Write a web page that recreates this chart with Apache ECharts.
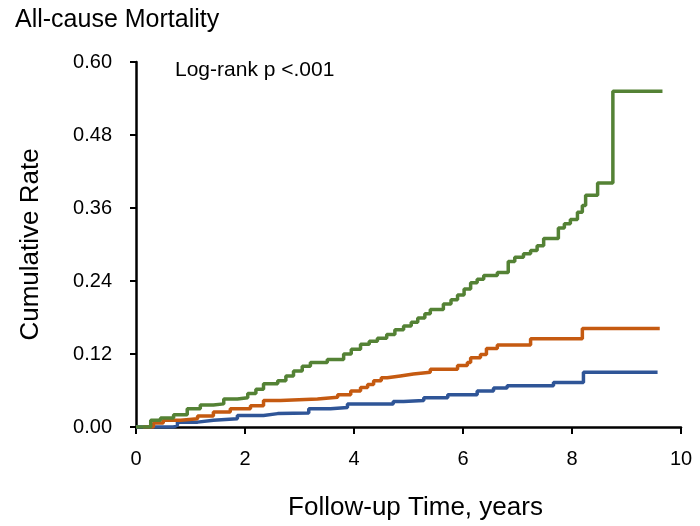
<!DOCTYPE html>
<html>
<head>
<meta charset="utf-8">
<script src="https://cdn.jsdelivr.net/npm/echarts@6/dist/echarts.min.js"></script>
<style>
  html, body { margin: 0; padding: 0; background: #fff; }
  #main { width: 700px; height: 526px; }
</style>
</head>
<body>
<div id="main"></div>
<script>
// 刻度
const yTicks = [0, 0.12, 0.24, 0.36, 0.48, 0.60];
const xTicks = [0, 2, 4, 6, 8, 10];

// [years, cumulative rate] - step changes
const greenSteps = [
    [0, 0], [0.27, 0.011], [0.45, 0.015], [0.69, 0.02], [0.94, 0.03], [1.18, 0.036],
    [1.42, 0.038], [1.61, 0.046], [1.86, 0.048], [2.05, 0.055], [2.2, 0.062], [2.34, 0.071],
    [2.6, 0.076], [2.75, 0.084], [2.89, 0.092], [3.05, 0.1], [3.2, 0.106], [3.51, 0.111],
    [3.81, 0.12], [3.95, 0.128], [4.12, 0.136], [4.28, 0.141], [4.43, 0.146], [4.6, 0.152],
    [4.75, 0.16], [4.91, 0.166], [5.05, 0.172], [5.17, 0.179], [5.3, 0.186], [5.4, 0.193],
    [5.64, 0.202], [5.78, 0.209], [5.9, 0.217], [6.02, 0.227], [6.14, 0.237], [6.26, 0.243],
    [6.38, 0.249], [6.63, 0.254], [6.83, 0.272], [6.95, 0.279], [7.11, 0.285], [7.24, 0.29],
    [7.36, 0.298], [7.48, 0.31], [7.75, 0.327], [7.86, 0.334], [7.97, 0.341], [8.1, 0.353],
    [8.19, 0.364], [8.25, 0.381], [8.47, 0.401], [8.75, 0.552], [9.66, 0.552]
];
const orangeSteps = [
    [0.13, 0], [0.32, 0.0065], [0.5, 0.011], [0.82, 0.0135], [1.13, 0.018], [1.42, 0.0245],
    [1.73, 0.03], [2.1, 0.035], [2.34, 0.0435], [2.65, 0.046], [3.33, 0.049], [3.7, 0.053],
    [3.94, 0.059], [4.12, 0.065], [4.25, 0.07], [4.36, 0.076], [4.5, 0.081], [4.61, 0.084],
    [4.85, 0.087], [5.09, 0.09], [5.4, 0.095], [5.9, 0.101], [6.08, 0.106], [6.14, 0.114],
    [6.32, 0.119], [6.43, 0.129], [6.63, 0.135], [7.24, 0.145], [8.19, 0.162], [9.61, 0.162]
];
const blueSteps = [
    [0, 0], [0.69, 0.003], [0.76, 0.008], [1.13, 0.011], [1.42, 0.0135], [1.86, 0.019],
    [2.34, 0.022], [2.6, 0.023], [3.17, 0.03], [3.57, 0.032], [3.88, 0.038], [4.72, 0.042],
    [4.91, 0.0435], [5.28, 0.048], [5.72, 0.053], [6.26, 0.059], [6.56, 0.064], [6.81, 0.068],
    [7.66, 0.073], [8.21, 0.09], [9.57, 0.09]
];

var myChart = echarts.init(document.getElementById('main'));
const font = 'Liberation Sans, Arial, sans-serif';
var option = {
    backgroundColor: '#ffffff',
    animation: false,
    title: {
        text: 'All-cause Mortality',
        left: 10,
        top: 3,
        textStyle: { fontFamily: font, fontSize: 25, fontWeight: 'normal', color: '#000' }
    },
    graphic: [{
        type: 'text',
        left: 175,
        top: 60,
        style: { text: 'Log-rank p <.001', fontFamily: font, fontSize: 21, fill: '#000' }
    }],
    grid: { left: 136, right: 19, top: 62, bottom: 96 },
    xAxis: {
        type: 'value',
        min: xTicks[0],
        max: xTicks[xTicks.length - 1],
        interval: 2,
        name: 'Follow-up Time, years',
        nameLocation: 'middle',
        nameGap: 68,
        nameTextStyle: { fontFamily: font, fontSize: 26, color: '#000', padding: [0, 0, 0, 14] },
        axisLine: { lineStyle: { color: '#000', width: 2.5 } },
        axisTick: { show: true, length: 7, lineStyle: { color: '#000', width: 2 } },
        axisLabel: { fontFamily: font, fontSize: 20, color: '#000', margin: 22 },
        splitLine: { show: false }
    },
    yAxis: {
        type: 'value',
        min: yTicks[0],
        max: yTicks[yTicks.length - 1],
        interval: 0.12,
        name: 'Cumulative Rate',
        nameLocation: 'middle',
        nameGap: 92,
        nameTextStyle: { fontFamily: font, fontSize: 26, color: '#000' },
        axisLine: { show: true, lineStyle: { color: '#000', width: 2.5 } },
        axisTick: { show: true, length: 6, lineStyle: { color: '#000', width: 2 } },
        axisLabel: { fontFamily: font, fontSize: 20, color: '#000', margin: 24,
            formatter: function (v) { return v.toFixed(2); } },
        splitLine: { show: false }
    },
    series: [
        { type: 'line', step: 'end', data: blueSteps, showSymbol: false,
          lineStyle: { color: '#2F5597', width: 3.5 }, z: 3 },
        { type: 'line', step: 'end', data: orangeSteps, showSymbol: false,
          lineStyle: { color: '#C55A11', width: 3.5 }, z: 4 },
        { type: 'line', step: 'end', data: greenSteps, showSymbol: false,
          lineStyle: { color: '#548235', width: 3.5 }, z: 5 }
    ]
};
option && myChart.setOption(option);
</script>
</body>
</html>
